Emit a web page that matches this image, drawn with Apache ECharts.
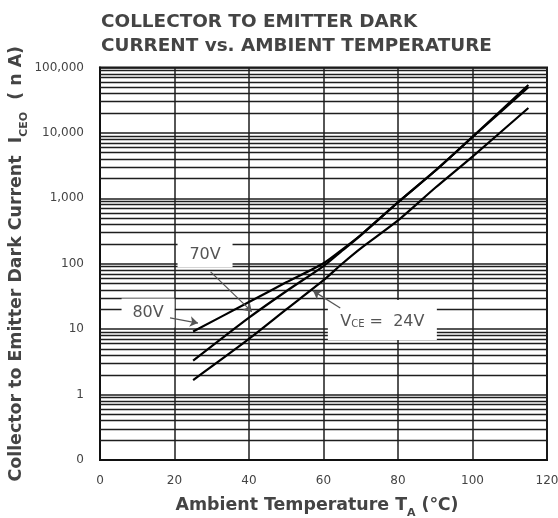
<!DOCTYPE html>
<html><head><meta charset="utf-8">
<script src="https://cdn.jsdelivr.net/npm/echarts@6/dist/echarts.min.js"></script>
<style>html,body{margin:0;padding:0;background:#fff}#c{width:558px;height:518px}</style>
</head><body><div id="c"></div>
<script>
// ---- data ----
const titleLines = ['COLLECTOR TO EMITTER DARK', 'CURRENT vs. AMBIENT TEMPERATURE'];
const temps = [25, 40, 50, 60, 65, 70, 80, 90, 100, 115];
const v80 = [9.2, 26, 52, 102, 165, 275, 870, 2650, 8700, 54000];
const v70 = [3.3, 15, 38, 92, 158, 272, 865, 2640, 8650, 50000];
const v24 = [1.67, 7.1, 20, 56, 100, 172, 460, 1450, 4350, 24000];
const xTicks = [0, 20, 40, 60, 80, 100, 120];
const yTicks = [0.1, 1, 10, 100, 1000, 10000, 100000];
const yTickLabels = ['0', '1', '10', '100', '1,000', '10,000', '100,000'];
const minorMult = [2, 3, 4, 5, 6, 7, 8, 9];
const annoLabels = ['70V', '80V', '{v|V}{s|CE}{v| =  24V}'];
const annoAt = [[28.2, 137], [12.9, 17.7], [75.8, 13.8]];
const arrowFrom = [[29.7, 75], [18.8, 14.9], [64.5, 21.1]];
const arrowTo = [[40.75, 18.5], [26.3, 12.4], [57.2, 38.5]];

// ---- build ----
const minorVals = [];
for (let d = -1; d < 5; d++) for (const m of minorMult) minorVals.push(m * Math.pow(10, d));
const pairs = arr => temps.map((t, i) => [t, arr[i]]);
const gridColor = '#1e1e1e';
const txt = '#444';
const boxSizes = [[55, 25], [53, 29], [109, 40]];

const curve = (name, arr) => ({
  name, type: 'line', data: pairs(arr), smooth: 0.25, symbol: 'none', z: 3,
  lineStyle: { color: '#000', width: 2.2 }
});

const nameRich = {
  m: { fontFamily: 'DejaVu Sans', fontWeight: 'bold', fontSize: 17.4, color: txt, verticalAlign: 'top', lineHeight: 22 },
  s: { fontFamily: 'DejaVu Sans', fontWeight: 'bold', fontSize: 11, color: txt, verticalAlign: 'bottom', lineHeight: 22 }
};

const chart = echarts.init(document.getElementById('c'));
chart.setOption({
  animation: false,
  backgroundColor: '#fff',
  title: {
    text: titleLines.join('\n'), left: 96, top: 5.5,
    textStyle: { fontFamily: 'DejaVu Sans', fontWeight: 'bold', fontSize: 18.4, color: txt, lineHeight: 24 }
  },
  grid: {
    left: 100, right: 11, top: 67.5, bottom: 58, show: true, borderColor: '#111', borderWidth: 2,
    containLabel: false, outerBoundsMode: 'none'
  },
  xAxis: {
    type: 'value', min: xTicks[0], max: xTicks[xTicks.length - 1], interval: xTicks[1] - xTicks[0],
    name: '{m|Ambient Temperature T}{s|A}{m| (℃)}',
    nameLocation: 'middle', nameGap: 37, nameMoveOverlap: false,
    nameTextStyle: { rich: nameRich, padding: [0, 13, 0, 0] },
    axisLine: { show: true, lineStyle: { color: '#111', width: 2 } },
    axisTick: { show: false },
    axisLabel: { color: txt, fontSize: 12, fontFamily: 'DejaVu Sans', margin: 15 },
    splitLine: { show: true, lineStyle: { color: gridColor, width: 1.5 } }
  },
  yAxis: {
    type: 'log', logBase: 10, min: yTicks[0], max: yTicks[yTicks.length - 1],
    name: '{m|Collector to Emitter Dark Current  I}{s|CEO}{m|  ( n A)}',
    nameLocation: 'middle', nameRotate: 90, nameGap: 70, nameMoveOverlap: false,
    nameTextStyle: { rich: nameRich },
    axisLine: { show: true, lineStyle: { color: '#111', width: 2 } },
    axisTick: { show: false },
    minorTick: { show: false },
    axisLabel: {
      color: txt, fontSize: 12, fontFamily: 'DejaVu Sans', margin: 16,
      formatter: v => {
        const i = yTicks.findIndex(t => Math.abs(Math.log10(t) - Math.log10(v)) < 1e-6);
        return i >= 0 ? yTickLabels[i] : '';
      }
    },
    splitLine: { show: true, lineStyle: { color: gridColor, width: 1.5 } }
  },
  series: [
    {
      name: 'minor', type: 'line', data: [], z: 1, silent: true,
      markLine: {
        silent: true, z: 1, symbol: ['none', 'none'], animation: false,
        label: { show: false },
        lineStyle: { color: gridColor, width: 1.3, type: 'solid' },
        emphasis: { disabled: true },
        data: minorVals.map(v => ({ yAxis: v }))
      }
    },
    curve('80V', v80),
    curve('70V', v70),
    curve('24V', v24),
    {
      name: 'anno', type: 'line', data: [], z: 10, silent: true,
      markPoint: {
        z: 10, silent: true, animation: false,
        symbol: 'rect',
        itemStyle: { color: '#fff' },
        label: {
          show: true, position: 'inside', color: '#555', fontSize: 16, fontFamily: 'DejaVu Sans',
          formatter: p => p.name,
          rich: {
            v: { fontSize: 16, fontFamily: 'DejaVu Sans', color: '#555', verticalAlign: 'bottom', lineHeight: 20 },
            s: { fontSize: 10, fontFamily: 'DejaVu Sans', color: '#555', verticalAlign: 'bottom', lineHeight: 20, padding: [0, 0, 1, 0] }
          }
        },
        data: annoLabels.map((l, i) => ({ name: l, coord: annoAt[i], symbolSize: boxSizes[i] }))
      },
      markLine: {
        z: 11, silent: true, animation: false,
        symbol: ['none', 'arrow'], symbolSize: 8,
        label: { show: false },
        itemStyle: { color: '#555' },
        lineStyle: { color: '#555', width: 1.2, type: 'solid' },
        emphasis: { disabled: true },
        data: arrowFrom.map((f, i) => [{ coord: f }, { coord: arrowTo[i] }])
      }
    }
  ]
});
</script>
</body></html>
